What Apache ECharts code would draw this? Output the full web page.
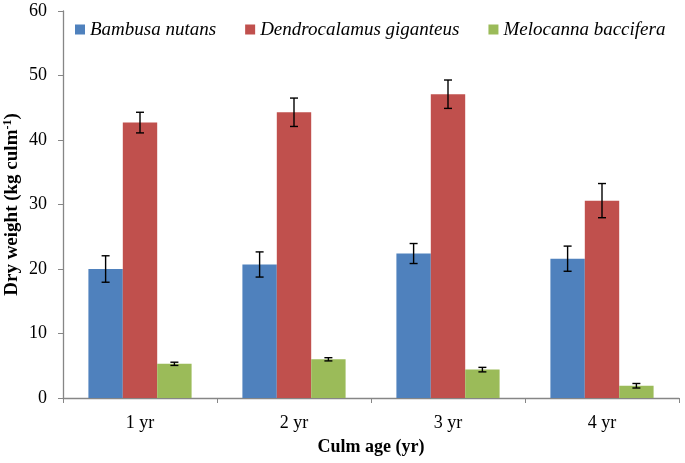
<!DOCTYPE html>
<html><head><meta charset="utf-8">
<script src="https://cdn.jsdelivr.net/npm/echarts@6/dist/echarts.min.js"></script>
<style>html,body{margin:0;padding:0;background:#fff}#c{width:685px;height:463px}</style>
</head><body><div id="c"></div>
<script>
const categories = ['1 yr', '2 yr', '3 yr', '4 yr'];
const seriesNames = ['Bambusa nutans', 'Dendrocalamus giganteus', 'Melocanna baccifera'];
const bambusa = [20.0, 20.7, 22.4, 21.6];
const bambusaErr = [2.05, 1.95, 1.55, 1.95];
const dendro = [42.7, 44.3, 47.1, 30.6];
const dendroErr = [1.6, 2.2, 2.2, 2.65];
const melocanna = [5.3, 6.0, 4.4, 1.9];
const melocannaErr = [0.25, 0.25, 0.35, 0.35];
const colors = ['#4F81BD', '#C0504D', '#9BBB59'];

const values = [bambusa, dendro, melocanna];
const errs = [bambusaErr, dendroErr, melocannaErr];
const catGap = 0.33;
const font = '"Liberation Serif", "DejaVu Serif", serif';

const chart = echarts.init(document.getElementById('c'));
const series = [];
values.forEach((v, i) => {
  series.push({
    name: seriesNames[i], type: 'bar', data: v,
    itemStyle: { color: colors[i] },
    barGap: '0%', barCategoryGap: (catGap * 100) + '%'
  });
});
values.forEach((v, i) => {
  series.push({
    type: 'custom', silent: true, z: 10,
    data: v.map((val, j) => [j, val, errs[i][j]]),
    renderItem: function (params, api) {
      const cat = api.value(0), val = api.value(1), e = api.value(2);
      const band = api.size([1, 0])[0];
      const bw = band * (1 - catGap) / 3;
      const c = api.coord([cat, val]);
      const x = c[0] + (i - 1) * bw;
      const yt = api.coord([cat, val + e])[1];
      const yb = api.coord([cat, val - e])[1];
      const cap = 4;
      const st = { stroke: '#000', lineWidth: 1.4 };
      return { type: 'group', children: [
        { type: 'line', shape: { x1: x, y1: yt, x2: x, y2: yb }, style: st },
        { type: 'line', shape: { x1: x - cap, y1: yt, x2: x + cap, y2: yt }, style: st },
        { type: 'line', shape: { x1: x - cap, y1: yb, x2: x + cap, y2: yb }, style: st }
      ]};
    }
  });
});

chart.setOption({
  animation: false,
  textStyle: { fontFamily: font },
  grid: { left: 63, right: 6, top: 11, bottom: 65, containLabel: false, outerBoundsMode: 'none' },
  legend: {
    data: seriesNames, left: 70, top: 15, itemWidth: 10, itemHeight: 10, itemGap: 29,
    icon: 'rect',
    textStyle: { fontFamily: font, fontStyle: 'italic', fontSize: 19, color: '#000' }
  },
  xAxis: {
    type: 'category', data: categories,
    axisLine: { lineStyle: { color: '#868686', width: 1.3 } },
    axisTick: { show: true, length: 5, lineStyle: { color: '#868686' } },
    axisLabel: { color: '#000', fontSize: 18, fontFamily: font, margin: 16 },
    name: 'Culm age (yr)', nameLocation: 'middle', nameGap: 40, nameMoveOverlap: false,
    nameTextStyle: { color: '#000', fontSize: 18, fontWeight: 'bold', fontFamily: font }
  },
  yAxis: {
    type: 'value', min: 0, max: 60, interval: 10,
    axisLine: { show: true, lineStyle: { color: '#868686', width: 1.3 } },
    axisTick: { show: true, length: 5, lineStyle: { color: '#868686' } },
    splitLine: { show: false },
    axisLabel: { color: '#000', fontSize: 18, fontFamily: font, margin: 16 },
    name: '{a|Dry weight (kg culm}{s|-1}{a|)}', nameLocation: 'middle', nameGap: 41, nameMoveOverlap: false,
    nameTextStyle: {
      rich: {
        a: { fontSize: 19, fontWeight: 'bold', fontFamily: font, color: '#000' },
        s: { fontSize: 12, fontWeight: 'bold', fontFamily: font, color: '#000', verticalAlign: 'top', padding: [0, 0, 8, 0] }
      }
    }
  },
  series: series
});
</script></body></html>
